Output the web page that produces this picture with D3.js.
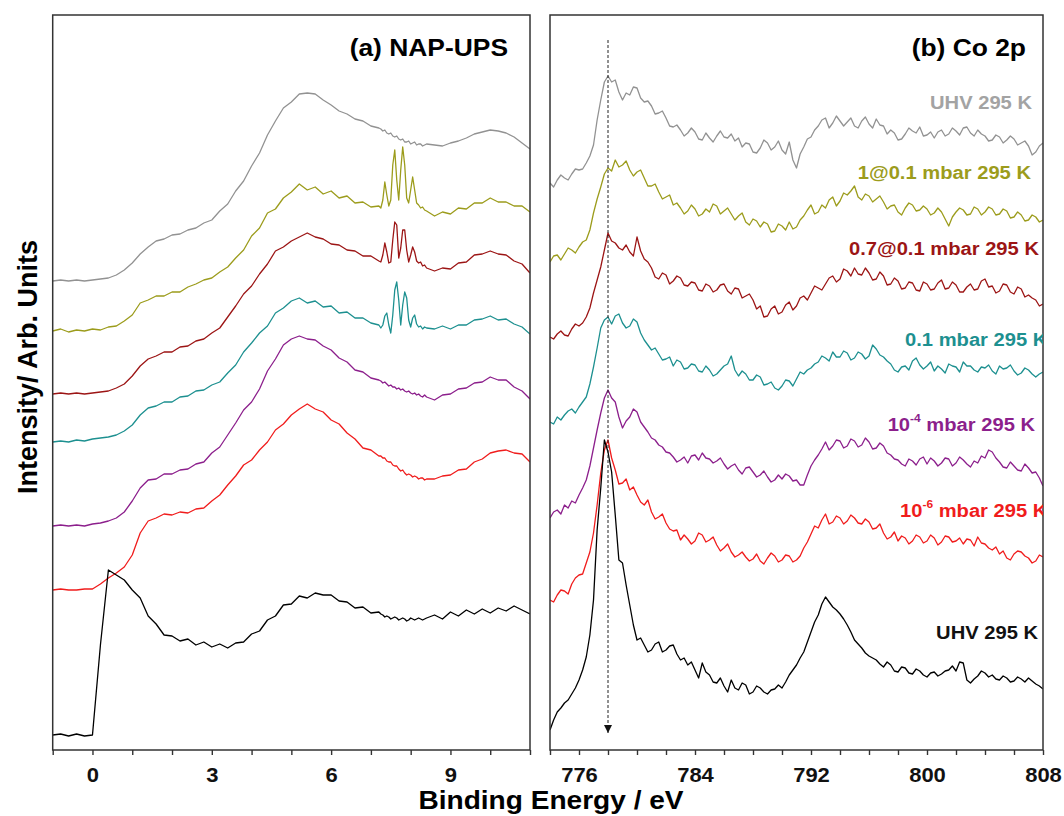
<!DOCTYPE html>
<html>
<head>
<meta charset="utf-8">
<script src="https://cdn.jsdelivr.net/npm/d3@7"></script>
<style>
  body { margin: 0; background: #fff; }
  svg { display: block; }
  text { font-family: "Liberation Sans", Arial, sans-serif; font-weight: bold; }
</style>
</head>
<body>
<svg id="chart" width="1064" height="816"></svg>
<script>
// ---------- Panel (a): NAP-UPS valence band, binding energy grid (eV) ----------
// coarse 0.2 eV below 7.2 eV, 0.05 eV across the gas-phase lines, 0.2 eV above 8.6 eV
const upsEnergy = [].concat(
  d3.range(0, 42).map(i => +(-1 + 0.2 * i).toFixed(2)),
  d3.range(0, 24).map(i => +(7.25 + 0.05 * i).toFixed(2)),
  d3.range(0, 13).map(i => +(8.6 + 0.2 * i).toFixed(2))
);

// stacked intensities (arb. units, offsets included)
const upsUhvAfter = [469,470,469,470,469,470,471,472,475,480,487,496,503,509,511,515,516,520,522,527,530,539,546,559,569,584,597,615,629,642,648,656,657,656,650,645,639,636,631,629,624,622,
  621,619,620,617,616,617,614,613,614,611,610,611,608,608,609,606,607,608,605,606,606,604,605,606,
  605,604,607,609,612,616,618,620,619,617,613,607,601];
const ups1At01 = [419,421,418,420,419,421,420,423,424,429,435,447,450,454,454,458,458,463,466,470,472,478,483,492,500,514,522,537,541,552,558,566,560,563,556,559,552,554,547,548,543,544,
  542,550,568,555,544,550,585,600,570,550,580,603,585,552,547,560,573,560,547,545,542,543,540,539,
  534,538,536,542,541,547,547,552,548,548,544,544,538];
const ups07At01 = [356,357,356,357,356,357,358,359,362,366,374,384,391,394,398,398,403,404,409,411,417,422,433,444,456,464,476,486,499,503,509,513,517,513,511,506,505,500,499,494,494,489,
  488,495,507,498,487,488,510,528,525,492,502,520,520,500,488,495,503,498,489,487,488,484,485,482,
  479,482,481,487,488,495,496,499,496,495,489,486,477];
const ups01 = [308,309,308,310,309,311,312,313,315,319,325,335,342,344,348,348,353,354,359,360,365,368,377,385,398,407,417,424,437,442,449,452,447,449,443,444,437,438,432,432,427,425,
  422,425,434,437,425,417,435,460,468,450,425,445,458,452,430,423,432,435,426,423,424,421,423,422,
  421,424,421,425,425,430,431,434,430,431,426,423,416];
const upsE4 = [224,225,224,225,224,226,227,229,232,238,249,262,270,271,276,276,280,281,286,288,297,303,315,327,340,348,361,379,391,405,411,414,411,410,404,400,392,388,380,378,372,370,
  369,367,368,366,364,365,363,363,361,362,360,361,359,358,359,357,356,357,355,356,354,353,355,353,
  350,355,356,361,362,367,368,373,370,370,363,359,351];
const upsE6 = [160,161,160,160,161,161,166,172,177,183,195,217,229,232,236,235,238,237,241,242,249,255,265,274,285,290,300,308,320,326,335,341,346,341,338,330,326,317,311,302,300,294,
  294,292,292,289,288,288,285,284,284,281,279,280,277,275,276,275,273,274,273,271,272,272,270,271,
  271,274,275,280,281,288,291,297,299,300,297,296,288];
const upsUhvClean = [15,16,14,16,14,15,105,180,175,170,160,152,134,126,115,114,109,111,105,108,103,106,102,107,108,116,119,130,134,145,146,154,152,157,155,155,149,148,142,143,137,138,
  136,135,133,134,133,131,132,133,132,130,131,132,131,129,130,132,131,130,131,132,131,130,131,132,
  135,131,138,134,140,136,141,137,142,139,144,140,136];

// ---------- Panel (b): Co 2p, binding energy grid 774-808 eV, 0.25 eV step ----------
const coEnergy = d3.range(0, 137).map(i => 774 + 0.25 * i);

const coUhvAfter = [
  567,563,570,575,572,570,576,581,580,581,587,594,605,630,650,668,674,668,670,658,
  650,657,655,663,662,652,648,649,644,636,637,639,632,624,623,625,620,614,617,622,
  618,611,610,617,612,608,614,619,613,612,616,609,612,603,607,606,598,597,602,610,
  607,600,603,609,600,596,608,590,582,596,603,611,613,620,624,630,632,622,627,634,
  629,624,628,632,624,622,629,633,626,622,631,625,624,616,620,617,610,611,616,622,
  619,617,623,614,615,618,612,618,620,614,616,622,619,615,622,623,617,614,620,616,
  614,609,610,615,613,607,610,614,611,605,607,609,604,595,598,604,607];
const co1At01 = [
  488,494,495,490,496,502,500,497,503,508,510,520,537,551,563,576,582,579,590,583,
  585,589,580,574,578,580,572,564,564,566,558,551,553,555,545,547,542,536,539,545,
  541,534,536,541,538,546,544,536,539,542,536,530,534,537,528,525,531,529,523,528,
  526,518,519,526,524,520,528,521,523,530,534,540,545,536,538,545,542,550,553,544,
  549,557,555,559,564,553,550,556,554,548,551,554,548,541,544,545,538,535,542,547,
  545,539,540,544,541,535,537,542,538,531,524,533,538,542,540,535,536,543,541,535,
  538,543,541,535,536,541,539,532,533,538,535,529,530,535,533,528,530];
const co07At01 = [
  413,411,416,419,415,414,421,426,424,427,433,442,457,470,483,500,517,509,507,502,
  500,505,498,494,513,499,491,488,482,473,471,477,475,466,469,474,472,465,464,468,
  467,460,459,466,464,458,460,465,466,459,456,462,461,452,454,456,450,441,444,433,
  434,441,444,436,438,445,448,440,444,452,454,450,457,464,462,460,466,472,474,468,
  471,481,479,474,482,476,475,482,477,470,471,478,474,465,466,472,469,461,462,468,
  467,460,459,468,466,460,461,467,470,461,462,468,465,458,458,463,466,460,461,469,
  471,463,464,457,459,466,465,458,456,463,461,453,455,452,450,444,446];
const co01 = [
  328,326,333,330,335,339,341,337,343,348,353,366,383,402,422,430,433,426,434,436,
  427,422,424,431,428,417,410,405,400,402,396,390,391,393,384,390,388,381,382,386,
  385,379,378,384,380,374,376,380,384,386,394,380,374,379,376,370,370,375,373,365,
  366,368,362,360,364,370,369,364,371,378,376,380,382,386,388,394,392,389,398,393,
  393,399,397,390,392,398,396,391,394,405,401,395,393,389,386,380,378,383,384,380,
  389,392,385,381,384,388,379,384,381,377,386,384,383,378,388,384,384,380,378,383,
  382,385,379,376,384,381,382,385,379,375,377,382,380,376,373,376,378];
const coE4 = [
  232,238,240,236,245,242,249,247,255,262,270,284,302,320,337,352,360,352,348,333,
  322,329,333,341,338,328,323,318,312,310,305,303,298,297,293,288,290,293,287,294,
  295,290,297,292,291,287,289,292,286,281,284,286,280,276,282,283,278,273,275,279,
  273,268,270,275,271,276,274,269,270,265,265,275,284,290,295,301,308,300,304,310,
  309,302,304,311,309,303,305,312,308,301,302,307,304,297,295,291,290,286,284,291,
  289,285,291,293,286,292,289,284,287,292,291,284,287,293,290,286,283,289,287,294,
  292,300,298,292,288,283,282,288,284,280,279,286,282,277,278,272,264];
const coE6 = [
  150,148,155,160,159,156,166,172,175,176,187,198,217,245,277,300,310,292,280,266,
  267,271,260,263,255,248,245,250,238,231,233,236,227,221,219,220,210,215,211,206,
  209,217,215,208,210,213,205,199,202,206,198,193,195,198,193,189,191,196,189,186,
  192,197,194,188,190,195,194,188,190,194,202,208,216,224,222,230,236,226,228,234,
  232,226,229,235,232,227,226,231,228,221,222,226,217,211,213,218,209,214,212,206,
  209,215,213,207,209,215,212,205,208,214,213,208,209,212,206,211,210,204,213,207,
  206,202,200,203,196,199,192,190,196,199,198,194,192,187,189,195,193];
const coUhvClean = [
  20,30,38,42,47,50,56,62,70,80,93,115,150,220,262,310,298,278,235,190,
  187,165,145,125,110,112,105,98,100,106,108,98,100,104,105,96,90,92,85,88,
  80,72,87,78,75,68,67,72,64,58,70,62,60,67,65,56,58,64,62,58,
  56,60,61,65,62,68,75,80,85,92,98,108,118,128,135,146,153,148,143,140,
  136,131,125,118,110,106,102,97,94,92,90,86,83,88,85,79,78,83,82,77,
  76,81,79,75,73,77,78,74,76,79,80,84,79,88,87,70,67,71,74,79,
  77,73,75,71,70,74,72,68,69,73,71,68,72,69,66,64,61];

// condition labels (main text, superscript, tail) and their anchors (eV, intensity)
const condMain = ["UHV 295 K", "1@0.1 mbar 295 K", "0.7@0.1 mbar 295 K", "0.1 mbar 295 K", "10", "10", "UHV 295 K"];
const condSup  = ["", "", "", "", "-4", "-6", ""];
const condTail = ["", "", "", "", " mbar 295 K", " mbar 295 K", ""];
const condLabelE = [807.24, 807.17, 807.72, 808.3, 807.45, 808.3, 807.66];
const condLabelI = [641, 571, 495, 404, 319, 233, 111];

// tick settings
const upsTicks = d3.range(-1, 12, 1);
const upsTickLabels = [0, 3, 6, 9];
const coTicks = d3.range(774, 809, 2);
const coTickLabels = [776, 784, 792, 800, 808];
const co2p32Position = 778;

// ---------- styling ----------
const colors = ["#929292", "#9c9c1c", "#9c1515", "#1d9090", "#8c1f8c", "#f01c1c", "#000000"];
const labelColors = ["#a3a3a3", "#9c9c1c", "#9c1515", "#1d9090", "#8c1f8c", "#f01c1c", "#111111"];
const upsSeries = [upsUhvAfter, ups1At01, ups07At01, ups01, upsE4, upsE6, upsUhvClean];
const coSeries = [coUhvAfter, co1At01, co07At01, co01, coE4, coE6, coUhvClean];

const svg = d3.select("#chart");
const plotTop = 15, plotBottom = 750;
const xA = d3.scaleLinear().domain([-1, 11]).range([52.7, 530]);
const xB = d3.scaleLinear().domain([774, 808]).range([550, 1043]);
const yI = d3.scaleLinear().domain([0, 735]).range([plotBottom, plotTop]);

function sText(g, x, y, str, size, anchor, sx, fill) {
  return g.append("text")
    .attr("transform", `translate(${x},${y}) scale(${sx},1)`)
    .attr("text-anchor", anchor)
    .attr("font-size", size)
    .attr("fill", fill || "#000")
    .text(str);
}

const defs = svg.append("defs");
defs.append("clipPath").attr("id", "clipA").append("rect")
  .attr("x", xA.range()[0]).attr("y", plotTop).attr("width", xA.range()[1] - xA.range()[0]).attr("height", plotBottom - plotTop);
defs.append("clipPath").attr("id", "clipB").append("rect")
  .attr("x", xB.range()[0]).attr("y", plotTop).attr("width", xB.range()[1] - xB.range()[0]).attr("height", plotBottom - plotTop);
defs.append("marker").attr("id", "arrowDown")
  .attr("viewBox", "0 0 10 10").attr("refX", 5).attr("refY", 10)
  .attr("markerWidth", 8).attr("markerHeight", 10).attr("markerUnits", "userSpaceOnUse")
  .attr("orient", "0")
  .append("path").attr("d", "M0,0 L10,0 L5,10 Z").attr("fill", "#111");

function drawPanel(x, energy, series, ticks, tickLabels, clipId) {
  const g = svg.append("g");
  const line = d3.line().x((d, i) => x(energy[i])).y(d => yI(d));
  g.append("g").attr("clip-path", `url(#${clipId})`)
    .selectAll("path").data(series).join("path")
    .attr("d", d => line(d))
    .attr("fill", "none")
    .attr("stroke", (d, i) => colors[i])
    .attr("stroke-width", 1.3)
    .attr("stroke-linejoin", "round");

  const axis = d3.axisBottom(x).tickValues(ticks).tickSize(5).tickSizeOuter(0)
    .tickFormat(d => tickLabels.includes(d) ? String(d) : "");
  const ax = g.append("g").attr("transform", `translate(0,${plotBottom})`).call(axis);
  ax.select(".domain").remove();
  ax.selectAll(".tick line").attr("stroke", "#333").attr("stroke-width", 1.4);
  ax.selectAll(".tick text")
    .attr("y", 0).attr("dy", 0)
    .attr("transform", "translate(0,32) scale(1.1,1)")
    .attr("font-size", 20).attr("font-family", null).attr("fill", "#111");

  g.append("rect")
    .attr("x", x.range()[0]).attr("y", plotTop)
    .attr("width", x.range()[1] - x.range()[0]).attr("height", plotBottom - plotTop)
    .attr("fill", "none").attr("stroke", "#333").attr("stroke-width", 1.5);
  return g;
}

drawPanel(xA, upsEnergy, upsSeries, upsTicks, upsTickLabels, "clipA");
const gB = drawPanel(xB, coEnergy, coSeries, coTicks, coTickLabels, "clipB");

// Co 2p3/2 reference position
gB.append("line")
  .attr("x1", xB(co2p32Position)).attr("x2", xB(co2p32Position))
  .attr("y1", 40).attr("y2", 733)
  .attr("stroke", "#222").attr("stroke-width", 1)
  .attr("stroke-dasharray", "3,2")
  .attr("marker-end", "url(#arrowDown)");

// condition labels
const labG = gB.append("g").attr("clip-path", "url(#clipB)");
condMain.forEach((m, i) => {
  const t = labG.append("text")
    .attr("transform", `translate(${xB(condLabelE[i])},${yI(condLabelI[i])}) scale(1.09,1)`)
    .attr("text-anchor", "end").attr("font-size", 18.5)
    .attr("fill", labelColors[i]);
  t.append("tspan").text(m);
  if (condSup[i]) {
    t.append("tspan").attr("font-size", 11).attr("dy", -9).text(condSup[i]);
    t.append("tspan").attr("dy", 9).text(condTail[i]);
  }
});

// panel titles
sText(svg, 508, 56, "(a) NAP-UPS", 24, "end", 1.1);
sText(svg, 1026, 56, "(b) Co 2p", 24, "end", 1.1);

// axis titles
sText(svg, 551, 809, "Binding Energy / eV", 26, "middle", 1.08);
svg.append("text")
  .attr("transform", "translate(37,367) rotate(-90)")
  .attr("text-anchor", "middle").attr("font-size", 27).attr("fill", "#000")
  .text("Intensity/ Arb. Units");
</script>
</body>
</html>
